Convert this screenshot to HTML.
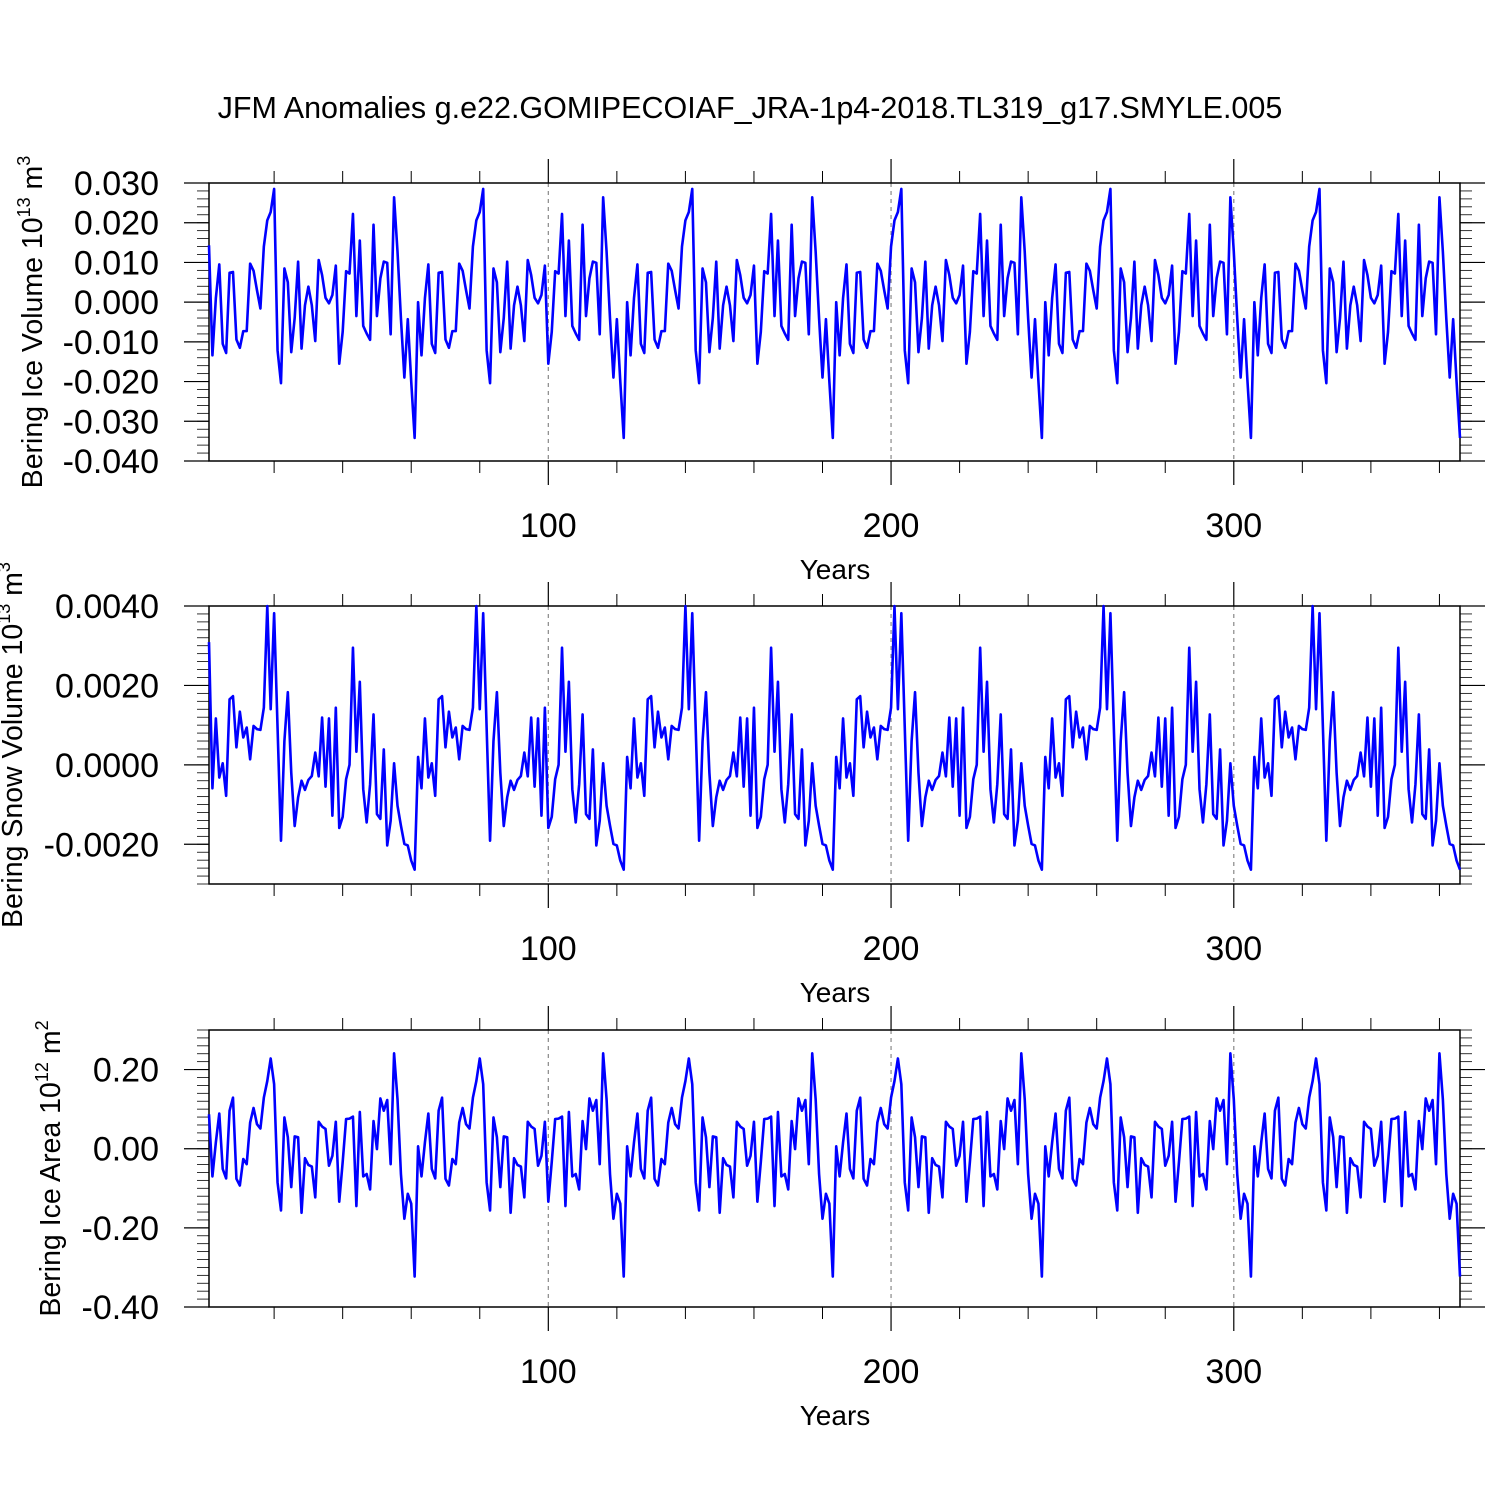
<!DOCTYPE html>
<html><head><meta charset="utf-8"><style>
html,body{margin:0;padding:0;background:#fff;}
svg{display:block;font-family:"Liberation Sans",Arial,sans-serif;}
</style></head><body>
<svg id="fig" width="1500" height="1500" viewBox="0 0 1500 1500">
<text x="750" y="118" text-anchor="middle" font-size="30.5">JFM Anomalies g.e22.GOMIPECOIAF_JRA-1p4-2018.TL319_g17.SMYLE.005</text>
</svg>
<script>
// Years 1..366; first value, then a 61-year cycle (years 2..62) repeated
const years = 366;
const iceVolFirst = 0.0143;
const iceVolCycle = [-0.0134,0.001,0.0095,-0.0105,-0.0128,0.0074,0.0076,-0.0094,-0.0115,-0.0073,-0.0073,0.0097,0.0079,0.003,-0.0016,0.014,0.0206,0.0227,0.0285,-0.0121,-0.0204,0.0085,0.005,-0.0126,-0.004,0.0102,-0.0117,-0.0008,0.0039,-0.0008,-0.0098,0.0106,0.0068,0.0011,-0.0003,0.0018,0.0092,-0.0155,-0.0075,0.0078,0.0072,0.0222,-0.0035,0.0155,-0.006,-0.0079,-0.0095,0.0195,-0.0035,0.006,0.0102,0.0099,-0.0081,0.0264,0.0127,-0.0041,-0.019,-0.0043,-0.02,-0.0342,0.0];
const snowVolFirst = 0.00309;
const snowVolCycle = [-0.00059,0.00117,-0.00032,0.00004,-0.00078,0.00165,0.00173,0.00044,0.00134,0.00069,0.00094,0.00014,0.00098,0.0009,0.00088,0.00144,0.0040,0.0014,0.00382,0.00094,-0.00191,0.0006,0.00183,-0.0002,-0.00154,-0.00082,-0.0004,-0.00063,-0.00038,-0.00028,0.00031,-0.00029,0.00119,-0.00055,0.00117,-0.00128,0.00144,-0.00159,-0.00131,-0.00036,0.0,0.00295,0.00033,0.00209,-0.00061,-0.00145,-0.00049,0.00127,-0.00124,-0.00136,0.00039,-0.00203,-0.00141,0.00004,-0.00103,-0.00153,-0.00199,-0.00203,-0.00241,-0.00264,0.0002];
const iceAreaFirst = 0.087;
const iceAreaCycle = [-0.070,0.016,0.089,-0.051,-0.075,0.096,0.129,-0.076,-0.093,-0.026,-0.039,0.066,0.103,0.062,0.051,0.129,0.171,0.228,0.163,-0.085,-0.156,0.079,0.029,-0.097,0.031,0.029,-0.162,-0.024,-0.041,-0.045,-0.123,0.068,0.056,0.050,-0.043,-0.018,0.068,-0.134,-0.034,0.075,0.076,0.081,-0.145,0.093,-0.070,-0.064,-0.103,0.070,-0.001,0.127,0.096,0.123,-0.039,0.241,0.125,-0.064,-0.177,-0.114,-0.139,-0.323,0.006];
const xTicks = [100,200,300];
const yTicks1 = [0.030,0.020,0.010,0.000,-0.010,-0.020,-0.030,-0.040];
const yTicks2 = [0.0040,0.0020,0.0000,-0.0020];
const yTicks3 = [0.20,0.00,-0.20,-0.40];

function build(first, cycle){const s=[first];for(let y=2;y<=years;y++)s.push(cycle[(y-2)%cycle.length]);return s;}
const NS="http://www.w3.org/2000/svg";
const svg=document.getElementById('fig');
function mk(tag,attrs,parent){const e=document.createElementNS(NS,tag);for(const k in attrs)e.setAttribute(k,attrs[k]);(parent||svg).appendChild(e);return e;}
const X0=209,X1=1460;
function xs(v){return X0+(v-1)*(X1-X0)/(years-1);}

function panel(cfg){
  const g=mk('g',{});
  
  
  const T=cfg.top,B=cfg.bot;
  const ys=v=>T+(cfg.ymax-v)/(cfg.ymax-cfg.ymin)*(B-T);
  xTicks.forEach(t=>{const l=mk('line',{x1:xs(t),x2:xs(t),y1:T,y2:B,stroke:'#888','stroke-width':1.2,'stroke-dasharray':'4,4'},g);
    });
  for(let t=20;t<=years;t+=20){ if(t%100===0)continue;
    mk('line',{x1:xs(t),x2:xs(t),y1:B,y2:B+12,stroke:'#000','stroke-width':1},g);
    mk('line',{x1:xs(t),x2:xs(t),y1:T,y2:T-12,stroke:'#000','stroke-width':1},g);}
  xTicks.forEach(t=>{
    mk('line',{x1:xs(t),x2:xs(t),y1:B,y2:B+24,stroke:'#000','stroke-width':1.2},g);
    mk('line',{x1:xs(t),x2:xs(t),y1:T,y2:T-24,stroke:'#000','stroke-width':1.2},g);
    const tx=mk('text',{x:xs(t),y:B+76,'text-anchor':'middle','font-size':34},g);tx.textContent=t;
    
  });
  for(let v=cfg.ymin;v<=cfg.ymax+1e-12;v+=cfg.minor){const y=ys(v);
    mk('line',{x1:X0-12,x2:X0,y1:y,y2:y,stroke:'#000','stroke-width':0.8},g);
    mk('line',{x1:X1,x2:X1+12,y1:y,y2:y,stroke:'#000','stroke-width':0.8},g);}
  cfg.ticks.forEach(v=>{const y=ys(v);
    mk('line',{x1:X0-25,x2:X0,y1:y,y2:y,stroke:'#000','stroke-width':1.2},g);
    mk('line',{x1:X1,x2:X1+25,y1:y,y2:y,stroke:'#000','stroke-width':1.2},g);
    const tx=mk('text',{x:159,y:y+12,'text-anchor':'end','font-size':34},g);tx.textContent=v.toFixed(cfg.dec);
    });
  const fr=mk('rect',{x:X0,y:T,width:X1-X0,height:B-T,fill:'none',stroke:'#000','stroke-width':1.5},g);
  
  const s=build(cfg.first,cfg.cycle);
  const pts=s.map((v,i)=>xs(i+1).toFixed(2)+','+ys(v).toFixed(2)).join(' ');
  const pl=mk('polyline',{points:pts,fill:'none',stroke:'#0000ff','stroke-width':2.6,'stroke-linejoin':'round'},g);
  
  const xl=mk('text',{x:835,y:B+118,'text-anchor':'middle','font-size':28},g);xl.textContent='Years';
  
  const yl=mk('text',{x:0,y:0,'text-anchor':'middle','font-size':28.5,transform:'translate('+cfg.ylx+','+((T+B)/2)+') rotate(-90)'},g);
  yl.innerHTML=cfg.label;
  
}
panel({name:'ice-volume-panel',top:183,bot:461,ymax:0.030,ymin:-0.040,minor:0.002,ticks:yTicks1,dec:3,first:iceVolFirst,cycle:iceVolCycle,ylx:42,
  label:'Bering Ice Volume 10<tspan dy="-12" font-size="18">13</tspan><tspan dy="12"> m</tspan><tspan dy="-12" font-size="18">3</tspan>'});
panel({name:'snow-volume-panel',top:606,bot:884,ymax:0.0040,ymin:-0.0030,minor:0.0002,ticks:yTicks2,dec:4,first:snowVolFirst,cycle:snowVolCycle,ylx:22,
  label:'Bering Snow Volume 10<tspan dy="-12" font-size="18">13</tspan><tspan dy="12"> m</tspan><tspan dy="-12" font-size="18">3</tspan>'});
panel({name:'ice-area-panel',top:1030,bot:1307,ymax:0.30,ymin:-0.40,minor:0.02,ticks:yTicks3,dec:2,first:iceAreaFirst,cycle:iceAreaCycle,ylx:60,
  label:'Bering Ice Area 10<tspan dy="-12" font-size="18">12</tspan><tspan dy="12"> m</tspan><tspan dy="-12" font-size="18">2</tspan>'});
</script>
</body></html>
